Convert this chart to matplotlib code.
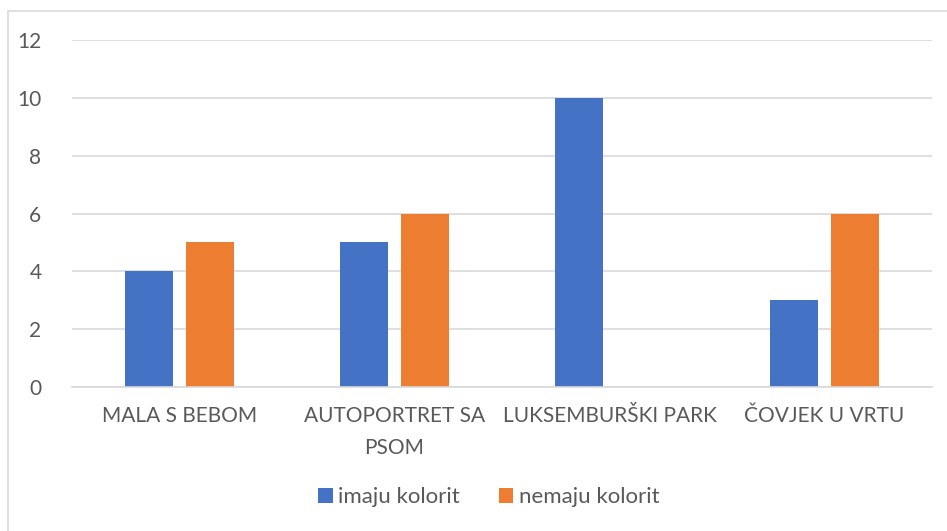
import matplotlib
matplotlib.use("Agg")
from matplotlib import pyplot as plt
from matplotlib.patches import Rectangle
import numpy as np

plt.rcParams['font.family'] = ['Lato', 'DejaVu Sans']

# data
categories = ["MALA S BEBOM", "AUTOPORTRET SA\nPSOM", "LUKSEMBURŠKI PARK", "ČOVJEK U VRTU"]
imaju = [4, 5, 10, 3]
nemaju = [5, 6, 0, 6]
series_names = ["imaju kolorit", "nemaju kolorit"]
yticks = [0, 2, 4, 6, 8, 10, 12]

blue = "#4472C4"
orange = "#ED7D31"
grid_c = "#D9D9D9"
text_c = "#595959"

fig = plt.figure(figsize=(9.47, 5.31), dpi=100)
W, H = 947, 531

# chart frame (left and top edges visible)
fig.add_artist(Rectangle((8 / W, -0.05), 1.0, 1 - 11 / H + 0.05, transform=fig.transFigure,
                         fill=False, edgecolor=grid_c, linewidth=1.2))

ax = fig.add_axes([72 / W, 1 - 387 / H, (932 - 72) / W, (387 - 40) / H])

x = np.arange(len(categories))
bw = 0.225
off = 0.143
ax.bar(x - off, imaju, width=bw, color=blue, label=series_names[0], zorder=3)
ax.bar(x + off, nemaju, width=bw, color=orange, label=series_names[1], zorder=3)

ax.set_xlim(-0.5, len(categories) - 0.5)
ax.set_ylim(0, 12)
ax.set_yticks(yticks)
ax.set_yticklabels([str(v) for v in yticks])
ax.set_xticks(x)
ax.set_xticklabels(categories, linespacing=1.75)

ax.yaxis.grid(True, color=grid_c, linewidth=1.2, zorder=0)
for s in ["left", "right", "top"]:
    ax.spines[s].set_visible(False)
ax.spines["bottom"].set_color(grid_c)
ax.spines["bottom"].set_linewidth(1.2)
ax.spines["bottom"].set_zorder(4)

ax.tick_params(axis="both", length=0, labelsize=15, colors=text_c)
ax.tick_params(axis="y", pad=22)
ax.tick_params(axis="x", pad=14)
for lab in ax.get_xticklabels():
    lab.set_verticalalignment("top")

fig.legend(loc="center", bbox_to_anchor=(489 / W, 1 - 497 / H), ncol=2, frameon=False,
           fontsize=16, labelcolor=text_c, handlelength=0.65, handleheight=0.65,
           handletextpad=0.25, columnspacing=1.75)

fig.savefig("out.png", dpi=100, facecolor="white")
